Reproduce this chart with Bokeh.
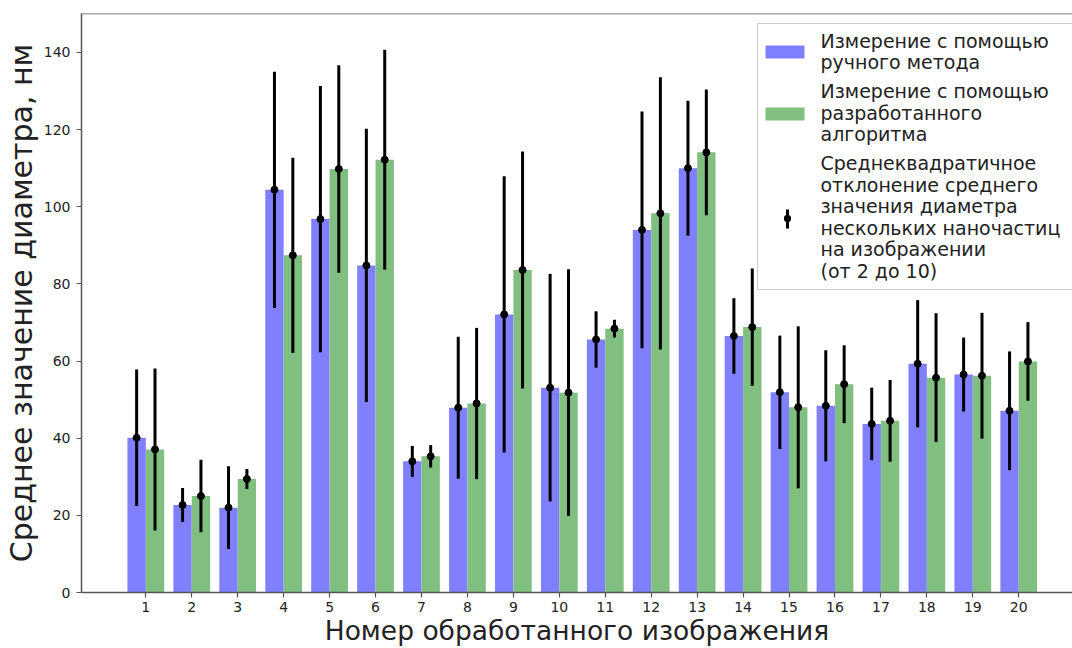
from bokeh.plotting import figure
from bokeh.models import FixedTicker, Span, Label, BoxAnnotation
from bokeh.embed import file_html
from bokeh.resources import INLINE

# ---------------- data ----------------
images = list(range(1, 21))
tick_labels = [str(i) for i in images]
manual_mean = [40.1, 22.7, 22.0, 104.4, 96.8, 84.8, 34.0, 47.9, 72.1, 53.1,
               65.6, 94.0, 110.0, 66.5, 51.9, 48.4, 43.7, 59.3, 56.5, 47.1]
manual_std = [17.7, 4.4, 10.7, 30.6, 34.5, 35.4, 4.0, 18.4, 35.8, 29.5,
              7.3, 30.7, 17.5, 9.8, 14.7, 14.4, 9.4, 16.5, 9.6, 15.4]
algo_mean = [37.1, 25.0, 29.4, 87.4, 109.8, 112.2, 35.3, 49.0, 83.6, 51.8,
             68.4, 98.3, 114.1, 68.8, 48.0, 54.0, 44.5, 55.7, 56.2, 59.9]
algo_std = [21.0, 9.4, 2.6, 25.3, 26.9, 28.5, 2.9, 19.6, 30.7, 32.0,
            2.3, 35.3, 16.3, 15.2, 21.0, 10.1, 10.6, 16.7, 16.3, 10.2]
y_ticks = [0, 20, 40, 60, 80, 100, 120, 140]

legend_manual = ["Измерение с помощью", "ручного метода"]
legend_algo = ["Измерение с помощью", "разработанного", "алгоритма"]
legend_err = ["Среднеквадратичное", "отклонение среднего", "значения диаметра",
              "нескольких наночастиц", "на изображении", "(от 2 до 10)"]
x_title = "Номер обработанного изображения"
y_title = "Среднее значение диаметра, нм"

# ---------------- style ----------------
FONT = "DejaVu Sans"
BLUE = "#8080ff"
GREEN = "#80bf80"
AXIS = "#555555"
TXT = "#222222"
BAR_W = 0.4
Y_END = 150.1

p = figure(width=1072, height=648, output_backend="svg", toolbar_location=None,
           x_range=(-0.40, 21.17), y_range=(0, Y_END),
           min_border_left=81, min_border_right=0, min_border_top=13, min_border_bottom=56)
p.outline_line_color = None
p.grid.visible = False
p.background_fill_color = "white"

xm = [i - BAR_W / 2 for i in images]
xa = [i + BAR_W / 2 for i in images]

p.vbar(x=xm, width=BAR_W, top=manual_mean, bottom=0, fill_color=BLUE, line_color=None)
p.vbar(x=xa, width=BAR_W, top=algo_mean, bottom=0, fill_color=GREEN, line_color=None)

for xs, m, s in ((xm, manual_mean, manual_std), (xa, algo_mean, algo_std)):
    lo = [a - b for a, b in zip(m, s)]
    hi = [a + b for a, b in zip(m, s)]
    p.segment(x0=xs, y0=lo, x1=xs, y1=hi, line_color="black", line_width=3)
    p.scatter(x=xs, y=m, size=7, fill_color="black", line_color="black")

# axes
for ax in (p.xaxis[0], p.yaxis[0]):
    ax.axis_line_color = AXIS
    ax.axis_line_width = 1.5
    ax.major_tick_line_color = AXIS
    ax.major_tick_line_width = 1.2
    ax.major_tick_in = 0
    ax.major_tick_out = 5
    ax.minor_tick_line_color = None
    ax.major_label_text_font = FONT
    ax.major_label_text_font_size = "14px"
    ax.major_label_text_color = TXT
    ax.major_label_standoff = 6

p.xaxis.ticker = FixedTicker(ticks=images)
p.xaxis.major_label_overrides = {i: t for i, t in zip(images, tick_labels)}
p.xaxis.major_label_standoff = 4
p.xaxis.axis_label = x_title
p.xaxis.axis_label_text_font = FONT
p.xaxis.axis_label_text_font_size = "26.5px"
p.xaxis.axis_label_text_font_style = "normal"
p.xaxis.axis_label_text_color = TXT
p.xaxis.axis_label_standoff = 0

p.yaxis.ticker = FixedTicker(ticks=y_ticks)
p.yaxis.axis_label = y_title
p.yaxis.axis_label_text_font = FONT
p.yaxis.axis_label_text_font_size = "30px"
p.yaxis.axis_label_text_font_style = "normal"
p.yaxis.axis_label_text_color = TXT
p.yaxis.axis_label_standoff = 2

# top spine
p.add_layout(Span(location=Y_END, dimension="width", line_color=AXIS, line_width=1.5))

FL, FB = 81, 592  # frame left / bottom in page pixels


def sx(px):
    return px - FL


def sy(py):
    return FB - py


def screen_box(l, r, t, b, **kw):
    return BoxAnnotation(left=sx(l), right=sx(r), top=sy(t), bottom=sy(b),
                         left_units="screen", right_units="screen",
                         top_units="screen", bottom_units="screen", **kw)


# ---------------- legend ----------------
EDGE = "#cccccc"
p.add_layout(screen_box(757, 1100, 23, 289, fill_color="white", fill_alpha=0.85, line_color=None))
p.add_layout(screen_box(757, 1100, 22.5, 23.5, fill_color=EDGE, fill_alpha=1.0, line_color=None))
p.add_layout(screen_box(757, 1100, 288.5, 289.5, fill_color=EDGE, fill_alpha=1.0, line_color=None))
p.add_layout(screen_box(756.5, 757.5, 23, 289, fill_color=EDGE, fill_alpha=1.0, line_color=None))
p.add_layout(screen_box(765, 804, 45, 58, fill_color=BLUE, fill_alpha=1.0, line_color=None))
p.add_layout(screen_box(765, 804, 107, 120, fill_color=GREEN, fill_alpha=1.0, line_color=None))
p.add_layout(screen_box(785.5, 788.5, 209, 228, fill_color="black", fill_alpha=1.0, line_color=None))
p.add_layout(screen_box(783.5, 790.5, 214.5, 221.5, fill_color="black", fill_alpha=1.0,
                        line_color=None, border_radius=3))

LINE_H = 21.6
for first_baseline, lines in ((40, legend_manual), (90.5, legend_algo), (162.5, legend_err)):
    for k, t in enumerate(lines):
        p.add_layout(Label(x=sx(820), y=sy(first_baseline + k * LINE_H),
                           x_units="screen", y_units="screen", text=t,
                           text_font=FONT, text_font_size="19px", text_color=TXT,
                           text_align="left", text_baseline="alphabetic"))

open("out.html", "w").write(file_html(p, INLINE))
